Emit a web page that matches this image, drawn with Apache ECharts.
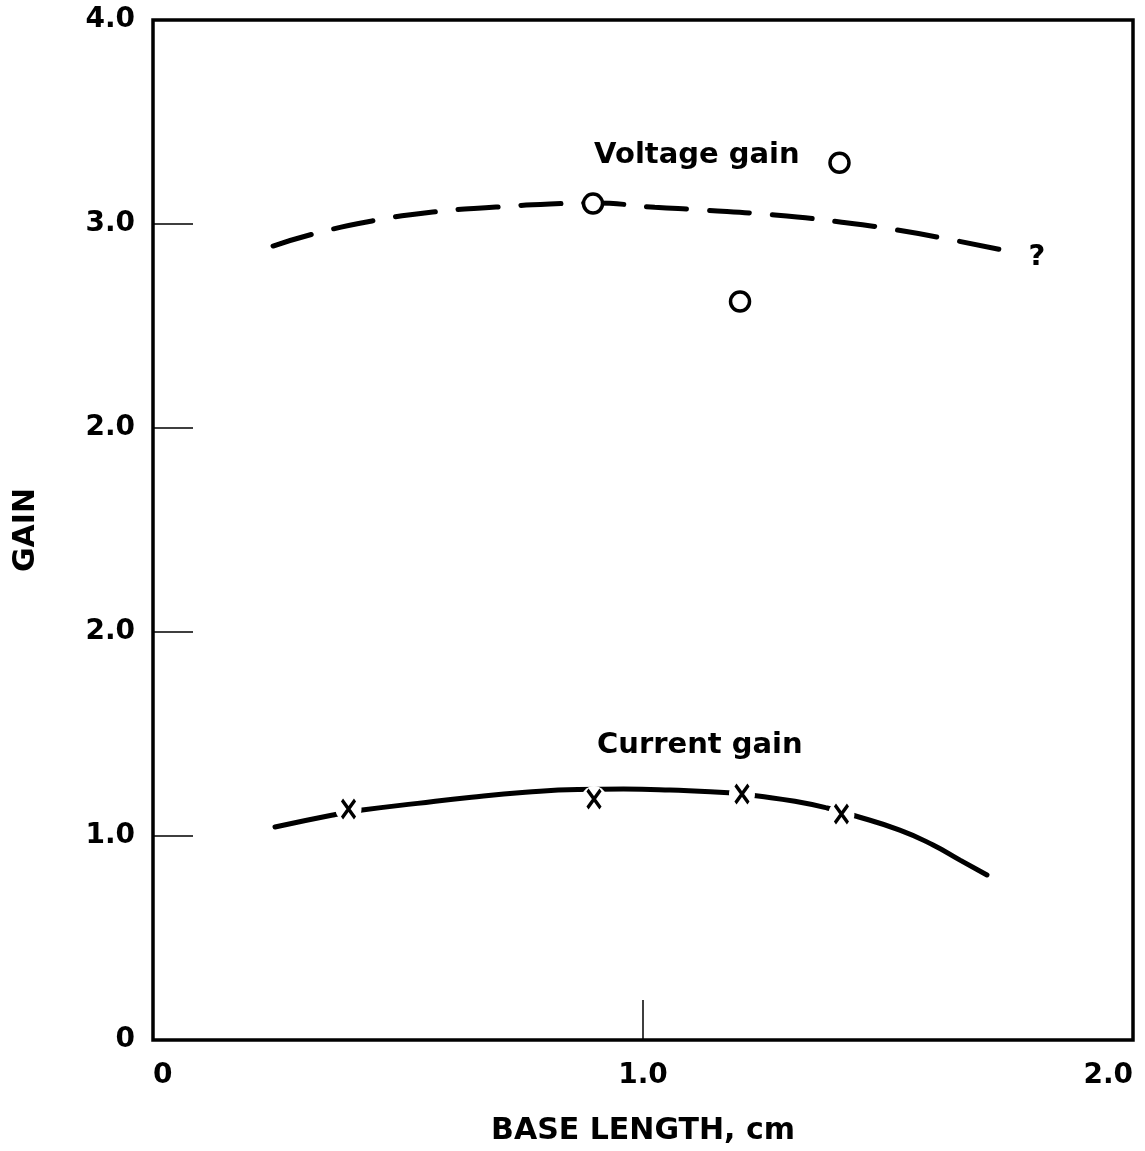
<!DOCTYPE html>
<html>
<head>
<meta charset="utf-8">
<script src="https://cdn.jsdelivr.net/npm/echarts@6/dist/echarts.min.js"></script>
<style>
	html, body { margin: 0; padding: 0; background: #fff; }
	#main { width: 1145px; height: 1151px; }
</style>
</head>
<body>
<div id="main"></div>
<script>
// tick labels as printed (the y axis really does say 2.0 twice)
const xTickLabels = ['0', '1.0', '2.0'];
const yTickLabels = ['0', '1.0', '2.0', '2.0', '3.0', '4.0'];

// dashed fitted curve, voltage gain (x = cm, y = axis position)
const voltageCurve = [
	[0.245, 3.892], [0.335, 3.956], [0.447, 4.015], [0.571, 4.059],
	[0.700, 4.083], [0.810, 4.098], [0.898, 4.103], [1.024, 4.082],
	[1.120, 4.069], [1.269, 4.044], [1.402, 4.010], [1.518, 3.971],
	[1.631, 3.922], [1.753, 3.863]
];
// measured voltage gain (circles)
const voltagePoints = [[0.898, 4.10], [1.401, 4.30], [1.198, 3.62]];

// solid fitted curve, current gain
const currentCurve = [
	[0.249, 1.044], [0.367, 1.103], [0.427, 1.127], [0.540, 1.160],
	[0.650, 1.190], [0.760, 1.214], [0.867, 1.228], [0.960, 1.230],
	[1.055, 1.225], [1.184, 1.211], [1.235, 1.196], [1.310, 1.170],
	[1.376, 1.137], [1.427, 1.103], [1.524, 1.029], [1.592, 0.956],
	[1.647, 0.882], [1.702, 0.809]
];
// measured current gain (crosses)
const currentPoints = [[0.399, 1.132], [0.900, 1.181], [1.202, 1.206], [1.405, 1.108]];

// text written on the plot
const noteText = ['Voltage gain', 'Current gain', '?'];
const notePos = [[1.110, 4.338], [1.116, 1.446], [1.804, 3.838]];

const FONT = 'DejaVu Sans';

let myChart = echarts.init(document.getElementById('main'));

let option = {
	animation: false,
	backgroundColor: '#fff',
	grid: {
		left: 153,
		top: 20,
		right: 12,
		bottom: 111,
		show: true,
		borderColor: '#000',
		borderWidth: 3.5
	},
	xAxis: {
		type: 'value',
		min: 0,
		max: 2,
		interval: 1,
		name: 'BASE LENGTH, cm',
		nameLocation: 'middle',
		nameGap: 76,
		nameTextStyle: { color: '#000', fontFamily: FONT, fontWeight: 'bold', fontSize: 30 },
		axisLine: { show: false },
		axisTick: { show: true, inside: true, length: 40, lineStyle: { color: '#000', width: 1.5 } },
		splitLine: { show: false },
		axisLabel: {
			margin: 22,
			color: '#000',
			fontFamily: FONT,
			fontWeight: 'bold',
			fontSize: 28,
			alignMinLabel: 'left',
			alignMaxLabel: 'right',
			formatter: function(v) {
				return xTickLabels[Math.round(v)];
			}
		}
	},
	yAxis: {
		type: 'value',
		min: 0,
		max: 5,
		interval: 1,
		name: 'GAIN',
		nameLocation: 'middle',
		nameRotate: 90,
		nameGap: 112,
		nameTextStyle: { color: '#000', fontFamily: FONT, fontWeight: 'bold', fontSize: 30 },
		axisLine: { show: false },
		axisTick: { show: true, inside: true, length: 40, lineStyle: { color: '#000', width: 1.5 } },
		splitLine: { show: false },
		axisLabel: {
			margin: 18,
			color: '#000',
			fontFamily: FONT,
			fontWeight: 'bold',
			fontSize: 28,
			formatter: function(v) {
				return yTickLabels[Math.round(v)];
			}
		}
	},
	series: [{
		name: 'Voltage gain fit',
		type: 'line',
		data: voltageCurve,
		smooth: true,
		showSymbol: false,
		z: 2,
		lineStyle: { color: '#000', width: 5, type: [40, 23], cap: 'round' }
	}, {
		name: 'Voltage gain',
		type: 'scatter',
		data: voltagePoints,
		symbol: 'circle',
		symbolSize: 19,
		z: 5,
		itemStyle: { color: '#fff', borderColor: '#000', borderWidth: 3.5, opacity: 1 }
	}, {
		name: 'Current gain fit',
		type: 'line',
		data: currentCurve,
		smooth: true,
		showSymbol: false,
		z: 2,
		lineStyle: { color: '#000', width: 5, cap: 'round' }
	}, {
		// white patch so the curve breaks around each cross
		name: 'gap',
		type: 'scatter',
		data: currentPoints,
		symbol: 'circle',
		symbolSize: 26,
		z: 3,
		silent: true,
		itemStyle: { color: '#fff', opacity: 1 }
	}, {
		name: 'Current gain',
		type: 'scatter',
		data: currentPoints,
		symbol: 'path://M0,0L10,14M10,0L0,14',
		symbolKeepAspect: false,
		symbolSize: [13, 18],
		z: 5,
		itemStyle: { color: 'none', borderColor: '#000', borderWidth: 3.5, opacity: 1 }
	}, {
		name: 'notes',
		type: 'scatter',
		data: notePos.map(function(p, i) {
			return { name: noteText[i], value: p };
		}),
		symbolSize: 1,
		z: 6,
		silent: true,
		itemStyle: { color: 'rgba(0,0,0,0)', opacity: 1 },
		label: {
			show: true,
			position: 'inside',
			formatter: '{b}',
			color: '#000',
			fontFamily: FONT,
			fontWeight: 'bold',
			fontSize: 29
		}
	}]
};

myChart.setOption(option);
</script>
</body>
</html>
